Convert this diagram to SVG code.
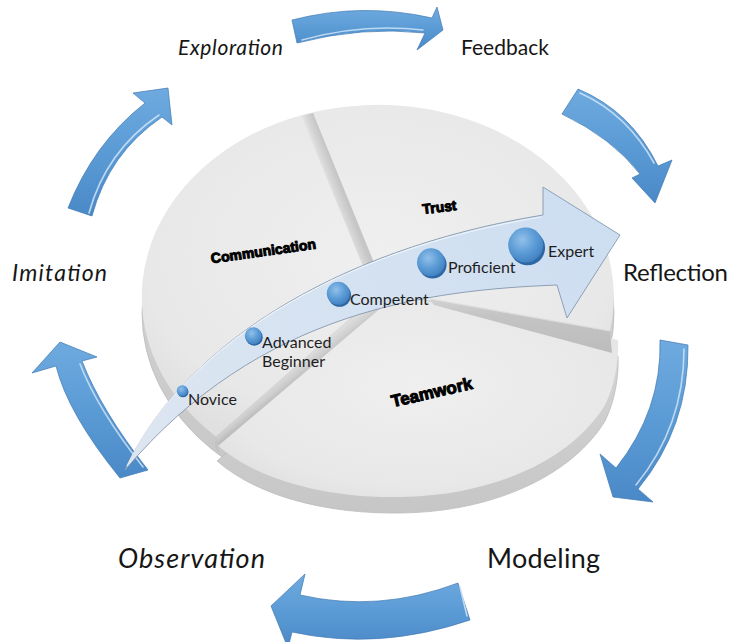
<svg xmlns="http://www.w3.org/2000/svg" xmlns:xlink="http://www.w3.org/1999/xlink" width="732" height="642" viewBox="0 0 732 642">
  <defs>
    <style>
      .stage { font-family: Lato, "Open Sans", "Liberation Sans", sans-serif; fill: #161616; }
      .level { font-family: Lato, "Open Sans", "Liberation Sans", sans-serif; font-size: 16px; fill: #1e1e1e; }
      .slice { font-family: "Liberation Sans", Arial, sans-serif; font-weight: bold; fill: #000; stroke: #000; stroke-width: 1px; stroke-linejoin: round; }
      .cyc { fill: url(#blueFill); stroke: #4178b2; stroke-width: 0.7; }
      .hl { fill: none; stroke: #cfe4f8; stroke-width: 1.6; stroke-linecap: round; opacity: 0.85; }
      .side { fill: url(#sideFill); stroke: #bdbdbd; stroke-width: 0.8; }
      .face { fill: url(#faceFill); }
    </style>
    <linearGradient id="blueFill" x1="0" y1="0" x2="0" y2="1">
      <stop offset="0" stop-color="#6eaadf"/>
      <stop offset="0.5" stop-color="#5b9bd5"/>
      <stop offset="1" stop-color="#4a89c7"/>
    </linearGradient>
    <linearGradient id="sideFill" x1="0" y1="0" x2="0" y2="1">
      <stop offset="0" stop-color="#d8d8d8"/>
      <stop offset="1" stop-color="#c6c6c6"/>
    </linearGradient>
    <radialGradient id="faceFill" cx="0.5" cy="0.45" r="0.62">
      <stop offset="0" stop-color="#efefef"/>
      <stop offset="0.8" stop-color="#e8e8e8"/>
      <stop offset="1" stop-color="#e0e0e0"/>
    </radialGradient>
    <linearGradient id="ridgeFill" gradientUnits="userSpaceOnUse" x1="301" y1="116" x2="312.1" y2="111.7">
      <stop offset="0" stop-color="#e6e6e6"/>
      <stop offset="0.35" stop-color="#d8d8d8"/>
      <stop offset="1" stop-color="#c6c6c6"/>
    </linearGradient>
    <linearGradient id="wallFill" x1="0" y1="0" x2="0" y2="1">
      <stop offset="0" stop-color="#d2d2d2"/>
      <stop offset="0.3" stop-color="#c4c4c4"/>
      <stop offset="1" stop-color="#bcbcbc"/>
    </linearGradient>
    <linearGradient id="wallFill2" gradientUnits="userSpaceOnUse" x1="290" y1="370" x2="298" y2="380">
      <stop offset="0" stop-color="#dcdcdc"/>
      <stop offset="0.6" stop-color="#cdcdcd"/>
      <stop offset="1" stop-color="#bdbdbd"/>
    </linearGradient>
    <linearGradient id="pathFill" gradientUnits="userSpaceOnUse" x1="125" y1="470" x2="620" y2="215">
      <stop offset="0" stop-color="#dde6f1"/>
      <stop offset="1" stop-color="#cddef1"/>
    </linearGradient>
    <radialGradient id="dotFill" cx="0.4" cy="0.35" r="0.7">
      <stop offset="0" stop-color="#92c0ea"/>
      <stop offset="0.55" stop-color="#5b9bd5"/>
      <stop offset="1" stop-color="#3f7fc0"/>
    </radialGradient>
  </defs>

  <rect width="732" height="642" fill="#ffffff"/>

  <!-- three-slice disc -->
  <g id="pie">
    <g id="slice-communication-trust">
      <ellipse class="side" cx="378" cy="313" rx="236" ry="192"/>
      <path class="face" d="M380,292 L216,436.6 A236,192 0 1 1 610,331 Z"/>
      <!-- ridge between Communication and Trust -->
      <polygon points="301,116 313,113 386,292 374,293" fill="url(#ridgeFill)"/>
    </g>
    <g id="slice-teamwork">
      <path class="side" transform="translate(0,16)" d="M396,295 L618,340 C619,360 615,385 605,405 C575,455 500,496 400,497 C330,498 260,482 217,445 Z"/>
      <path class="face" d="M396,295 L618,340 C619,360 615,385 605,405 C575,455 500,496 400,497 C330,498 260,482 217,445 Z"/>
    </g>
    <!-- exposed walls where the slices part -->
    <polygon points="430,299 610,331 612,353 434,305" fill="url(#wallFill)"/>
    <line x1="430" y1="299" x2="610" y2="331" stroke="#dcdcdc" stroke-width="1.2"/>
    <polygon points="380,292 216,436.6 218,446 396,295" fill="url(#wallFill2)"/>
    <polygon points="216,436.6 218,446 219,454 215,447" fill="#c2c2c2"/>

    <text class="slice" font-size="14" text-anchor="middle" transform="translate(264,256) rotate(-8)">Communication</text>
    <text class="slice" font-size="14" text-anchor="middle" transform="translate(440,212) rotate(-7)">Trust</text>
    <text class="slice" font-size="17" text-anchor="middle" transform="translate(433,398) rotate(-13)">Teamwork</text>
  </g>

  <!-- learning cycle stages -->
  <g id="stage-exploration"><text class="stage" x="178" y="55" font-size="21" font-style="italic" textLength="105">Exploration</text></g>
  <g id="stage-feedback"><text class="stage" x="461" y="55" font-size="21" textLength="88">Feedback</text></g>
  <g id="stage-reflection"><text class="stage" x="623" y="281" font-size="24" textLength="105">Reflection</text></g>
  <g id="stage-modeling"><text class="stage" x="487" y="568" font-size="27" textLength="113">Modeling</text></g>
  <g id="stage-observation"><text class="stage" x="118" y="568" font-size="27" font-style="italic" textLength="147">Observation</text></g>
  <g id="stage-imitation"><text class="stage" x="12" y="281" font-size="23" font-style="italic" textLength="95">Imitation</text></g>

  <!-- curved cycle arrows -->
  <g id="connectors">
    <g id="exploration-to-feedback">
      <path class="cyc" d="M292,20 Q362,2 432,18 L437,7 L443,30 L417,50 L425,33 Q362,26 297,43 Z"/>
      <path class="hl" d="M302,40 Q362,23 423,30"/>
    </g>
    <g id="feedback-to-reflection">
      <path class="cyc" d="M578,89 Q631,111 658,166 L672,160 L655,203 L632,178 L640,174 Q612,138 562,114 Z"/>
      <path class="hl" d="M580,93 Q627,114 654,163" opacity="0.5"/>
    </g>
    <g id="reflection-to-modeling">
      <path class="cyc" d="M660,340 L688,345 Q689,427 638,489 L653,502 L613,497 L600,454 L616,468 Q662,410 660,340 Z"/>
      <path class="hl" d="M684,349 Q684,426 636,485"/>
    </g>
    <g id="modeling-to-observation">
      <path class="cyc" d="M458,583 Q379,613 300,595 L305,574 L271,606 L288,648 L292,632 Q379,651 470,620 Z"/>
      <path class="hl" d="M460,587 L467,616"/>
    </g>
    <g id="observation-to-imitation">
      <path class="cyc" d="M120,478 Q68,414 56,366 L32,373 L60,342 L97,357 L82,361 Q101,410 148,470 Z"/>
      <path class="hl" d="M80,364 Q98,410 143,467" opacity="0.5"/>
    </g>
    <g id="imitation-to-exploration">
      <path class="cyc" d="M68,208 Q93,144 145,103 L133,93 L168,88 L172,125 L162,117 Q109,153 92,216 Z"/>
      <path class="hl" d="M159,115 Q106,151 89,213"/>
    </g>
  </g>

  <!-- progression arrow with the five levels -->
  <g id="progression">
    <path d="M125,470 C180,350 330,250 543,215 L543,187 L620,235 L567,318 L557,285 C430,290 260,310 125,470 Z" fill="url(#pathFill)" stroke="#8497ae" stroke-width="0.9"/>
    <path d="M127,466 C182,350 330,252 541,217" fill="none" stroke="#f4f8fc" stroke-width="1.2" opacity="0.8"/>
    <g id="level-novice">
      <circle cx="183" cy="391.8" r="5.5" fill="#2d67a4"/>
      <circle cx="182.3" cy="390.7" r="5.5" fill="url(#dotFill)"/>
      <text class="level" x="188" y="405">Novice</text>
    </g>
    <g id="level-advanced-beginner">
      <circle cx="254.3" cy="337.2" r="8.5" fill="#2d67a4"/>
      <circle cx="253.3" cy="335.7" r="8.5" fill="url(#dotFill)"/>
      <text class="level" x="262" y="348">Advanced</text>
      <text class="level" x="262" y="366.5">Beginner</text>
    </g>
    <g id="level-competent">
      <circle cx="339.6" cy="295.3" r="11.5" fill="#2d67a4"/>
      <circle cx="338.3" cy="293.3" r="11.5" fill="url(#dotFill)"/>
      <text class="level" x="350" y="305">Competent</text>
    </g>
    <g id="level-proficient">
      <circle cx="432.6" cy="264.6" r="14" fill="#2d67a4"/>
      <circle cx="431" cy="262.3" r="14" fill="url(#dotFill)"/>
      <text class="level" x="448" y="273">Proficient</text>
    </g>
    <g id="level-expert">
      <circle cx="527.6" cy="247.8" r="17.5" fill="#2d67a4"/>
      <circle cx="525.7" cy="245" r="17.5" fill="url(#dotFill)"/>
      <text class="level" x="548" y="256.5">Expert</text>
    </g>
  </g>
</svg>
